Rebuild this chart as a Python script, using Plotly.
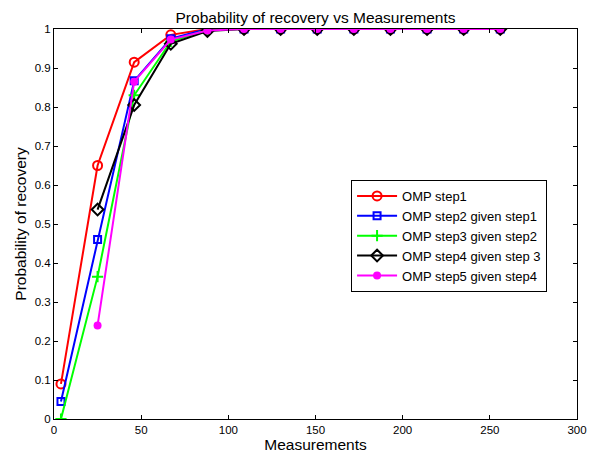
import plotly.graph_objects as go

x_all = [4, 25, 46, 67, 88, 109, 130, 151, 172, 193, 214, 235, 256]
x_late = [25, 46, 67, 88, 109, 130, 151, 172, 193, 214, 235, 256]

step1 = [0.09, 0.65, 0.915, 0.985, 1.0, 1.0, 1.0, 1.0, 1.0, 1.0, 1.0, 1.0, 1.0]
step2 = [0.045, 0.46, 0.867, 0.975, 1.0, 1.0, 1.0, 1.0, 1.0, 1.0, 1.0, 1.0, 1.0]
step3 = [0.0, 0.365, 0.83, 0.968, 0.998, 1.0, 1.0, 1.0, 1.0, 1.0, 1.0, 1.0, 1.0]
step4 = [0.537, 0.805, 0.962, 0.995, 1.0, 1.0, 1.0, 1.0, 1.0, 1.0, 1.0, 1.0]
step5 = [0.24, 0.865, 0.973, 0.996, 1.0, 1.0, 1.0, 1.0, 1.0, 1.0, 1.0, 1.0]

names = ["OMP step1", "OMP step2 given step1", "OMP step3 given step2",
         "OMP step4 given step 3", "OMP step5 given step4"]

x_ticks = [0, 50, 100, 150, 200, 250, 300]
y_ticks = [0, 0.1, 0.2, 0.3, 0.4, 0.5, 0.6, 0.7, 0.8, 0.9, 1.0]
y_ticktext = ["0", "0.1", "0.2", "0.3", "0.4", "0.5", "0.6", "0.7", "0.8", "0.9", "1"]

FONT = "Liberation Sans, Arial, Helvetica, sans-serif"

fig = go.Figure()
fig.add_trace(go.Scatter(x=x_all, y=step1, name=names[0], mode="lines+markers",
                         line=dict(color="#ff0000", width=2),
                         marker=dict(symbol="circle-open", size=9, color="#ff0000", line=dict(width=2))))
fig.add_trace(go.Scatter(x=x_all, y=step2, name=names[1], mode="lines+markers",
                         line=dict(color="#0000ff", width=2),
                         marker=dict(symbol="square-open", size=7, color="#0000ff", line=dict(width=2))))
fig.add_trace(go.Scatter(x=x_all, y=step3, name=names[2], mode="lines+markers",
                         line=dict(color="#00ff00", width=2),
                         marker=dict(symbol="cross-thin", size=8, color="#00ff00", line=dict(width=2, color="#00ff00"))))
fig.add_trace(go.Scatter(x=x_late, y=step4, name=names[3], mode="lines+markers",
                         line=dict(color="#000000", width=2),
                         marker=dict(symbol="diamond-open", size=9, color="#000000", line=dict(width=2))))
fig.add_trace(go.Scatter(x=x_late, y=step5, name=names[4], mode="lines+markers",
                         line=dict(color="#ff00ff", width=2),
                         marker=dict(symbol="circle", size=8, color="#ff00ff")))

axis_common = dict(showline=True, linecolor="black", linewidth=1, mirror="allticks",
                   ticks="inside", ticklen=4, tickcolor="black", showgrid=False,
                   zeroline=False, automargin=False,
                   tickfont=dict(family=FONT, size=11.5, color="black"))

fig.update_layout(
    width=595, height=455,
    margin=dict(l=46, r=26, t=21, b=44),
    paper_bgcolor="white", plot_bgcolor="white",
    font=dict(family=FONT, color="black"),
    title=dict(text="Probability of recovery vs Measurements", xref="paper", x=0.5, xanchor="center",
               yref="container", y=0.979, yanchor="middle",
               font=dict(family=FONT, size=15.5, color="black")),
    xaxis=dict(range=[0, 300], tickvals=x_ticks,
               title=dict(text="Measurements", font=dict(family=FONT, size=15.5), standoff=2),
               **axis_common),
    yaxis=dict(range=[0, 1], tickvals=y_ticks, ticktext=y_ticktext,
               title=dict(text="Probability of recovery", font=dict(family=FONT, size=15.5), standoff=4),
               **axis_common),
    legend=dict(x=0.568, y=0.613, xanchor="left", yanchor="top",
                bgcolor="white", bordercolor="black", borderwidth=1,
                font=dict(family=FONT, size=13, color="black"),
                tracegroupgap=0, itemwidth=40),
    showlegend=True,
)

fig.write_html("out.html")
